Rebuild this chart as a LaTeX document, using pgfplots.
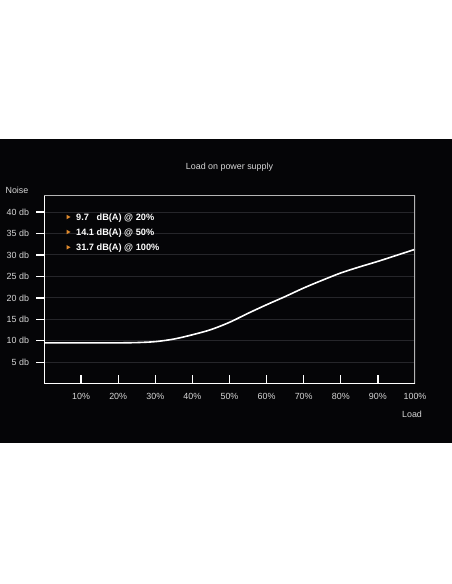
\documentclass[border=0pt]{standalone}
\usepackage{fontspec}
\setmainfont{Liberation Sans}
\usepackage{pgfplots}
\pgfplotsset{compat=1.18}
\definecolor{bg}{HTML}{050507}
\definecolor{lbl}{HTML}{D6D6D6}
\definecolor{grd}{HTML}{26262A}
\definecolor{frm}{HTML}{B4B4B4}
\definecolor{org}{HTML}{E08A2C}
\begin{document}
\begin{tikzpicture}[x=1pt,y=1pt]
\fill[white] (0,0) rectangle (452,584);
\fill[bg] (0,141) rectangle (452,445);
\begin{axis}[
  at={(44pt,200.3pt)}, anchor=south west,
  scale only axis, width=371pt, height=188pt,
  xmin=0, xmax=100, ymin=0, ymax=43.8,
  axis line style={draw=none},
  tick align=inside,
  xtick pos=left, ytick pos=left,
  xtick={10,20,30,40,50,60,70,80,90},
  xticklabels={10\%,20\%,30\%,40\%,50\%,60\%,70\%,80\%,90\%},
  extra x ticks={100}, extra x tick labels={100\%},
  extra x tick style={major tick length=0pt},
  ytick={5,10,15,20,25,30,35,40},
  yticklabels={5 db,10 db,15 db,20 db,25 db,30 db,35 db,40 db},
  major tick length=9pt,
  every tick/.style={white, line width=1.3pt},
  y tick style={xshift=-8pt},
  ymajorgrids,
  major grid style={grd, line width=0.9pt},
  ticklabel style={font=\fontsize{8.9}{10}\selectfont, text=lbl},
  yticklabel style={xshift=-11.5pt},
  xticklabel style={yshift=-6.5pt},
]
\addplot[white, line width=1.6pt, smooth, tension=0.5] coordinates {
  (0,9.5) (10,9.5) (20,9.52) (25,9.58) (30,9.8) (35,10.4) (40,11.4)
  (45,12.6) (50,14.3) (55,16.4) (60,18.4) (65,20.3) (70,22.3) (75,24.1)
  (80,25.8) (85,27.2) (90,28.5) (95,29.9) (100,31.3)
};
\draw[frm, line width=1.3pt] (rel axis cs:0,1) -- (rel axis cs:1,1) -- (rel axis cs:1,0);
\draw[white, line width=1.4pt] (rel axis cs:0,1) -- (rel axis cs:0,0) -- (rel axis cs:1,0);
\end{axis}
\node[text=lbl, font=\fontsize{8.9}{10}\selectfont] at (229.5,416.3) {Load on power supply};
\node[text=lbl, font=\fontsize{8.9}{10}\selectfont] at (17,394) {Noise};
\node[text=lbl, font=\fontsize{8.9}{10}\selectfont] at (412,169.7) {Load};
\foreach \yy in {367,352,336.7} {
  \fill[org] (66.5,\yy+2.3) -- (70.5,\yy) -- (66.5,\yy-2.3) -- cycle;
}
\begin{scope}[every node/.style={anchor=west, text=white, inner sep=0pt, font=\fontsize{9.2}{11}\selectfont\bfseries}]
\node at (76,366.3) {\rlap{9.7}\hphantom{14.1} dB(A) @ 20\%};
\node at (76,351.3) {14.1 dB(A) @ 50\%};
\node at (76,336) {31.7 dB(A) @ 100\%};
\end{scope}
\end{tikzpicture}
\end{document}
